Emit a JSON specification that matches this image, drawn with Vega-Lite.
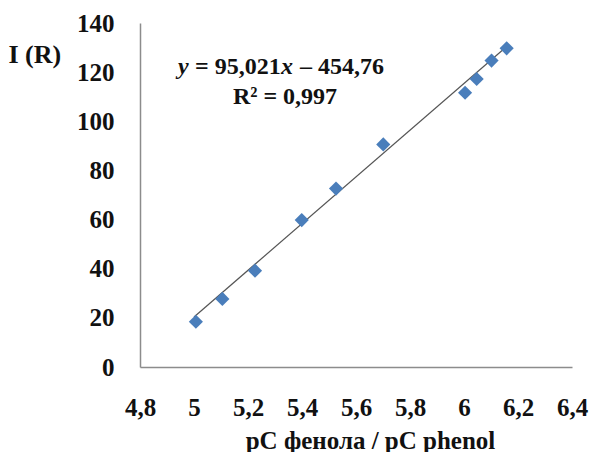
{
  "$schema": "https://vega.github.io/schema/vega-lite/v6.json",
  "width": 432,
  "height": 344,
  "autosize": {"type": "none"},
  "padding": {"left": 140, "top": 23, "right": 21, "bottom": 85},
  "background": "white",
  "config": {
    "view": {"stroke": null},
    "font": "Liberation Serif"
  },
  "datasets": {
    "pts": [
      {"pc": 5.007, "i": 18.4},
      {"pc": 5.105, "i": 27.7},
      {"pc": 5.226, "i": 39.2},
      {"pc": 5.399, "i": 59.8},
      {"pc": 5.526, "i": 72.6},
      {"pc": 5.701, "i": 90.6},
      {"pc": 6.004, "i": 111.6},
      {"pc": 6.047, "i": 117.2},
      {"pc": 6.102, "i": 124.7},
      {"pc": 6.158, "i": 129.7}
    ],
    "fit": [
      {"pc": 5.0, "i": 20.35},
      {"pc": 6.155, "i": 130.1}
    ],
    "eqi": [
      {"pc": 4.9407, "i": 121.9, "t": "y"},
      {"pc": 5.3222, "i": 121.9, "t": "x"}
    ],
    "eqb": [
      {"pc": 5.0037, "i": 121.9, "t": "= 95,021"},
      {"pc": 5.3926, "i": 121.9, "t": "– 454,76"}
    ],
    "eqc": [
      {"pc": 5.337, "i": 109.7, "t": "R² = 0,997"}
    ]
  },
  "layer": [
    {
      "data": {"name": "fit"},
      "mark": {"type": "line", "color": "#555555", "strokeWidth": 1.2},
      "encoding": {
        "x": {
          "field": "pc", "type": "quantitative",
          "scale": {"domain": [4.8, 6.4], "nice": false, "zero": false},
          "axis": {
            "values": [4.8, 5, 5.2, 5.4, 5.6, 5.8, 6, 6.2, 6.4],
            "labelExpr": "replace(format(datum.value, '~g'), '.', ',')",
            "grid": false, "ticks": false, "domainColor": "#8c8c8c", "domainWidth": 1.5,
            "labelFont": "Liberation Serif", "labelFontWeight": "bold", "labelFontSize": 25, "labelColor": "#111111",
            "labelPadding": 28, "labelFlush": false,
            "title": "pC фенола / pC phenol",
            "titleFont": "Liberation Serif", "titleFontWeight": "bold", "titleFontSize": 25, "titleColor": "#111111",
            "titleX": 230, "titleY": 81, "titleBaseline": "alphabetic"
          }
        },
        "y": {
          "field": "i", "type": "quantitative",
          "scale": {"domain": [0, 140], "nice": false},
          "axis": {
            "values": [0, 20, 40, 60, 80, 100, 120, 140],
            "grid": false, "ticks": false, "domainColor": "#8c8c8c", "domainWidth": 1.5,
            "labelFont": "Liberation Serif", "labelFontWeight": "bold", "labelFontSize": 25, "labelColor": "#111111",
            "labelPadding": 26,
            "title": "I (R)", "titleAngle": 0,
            "titleFont": "Liberation Serif", "titleFontWeight": "bold", "titleFontSize": 26, "titleColor": "#111111",
            "titleAlign": "left", "titleBaseline": "alphabetic",
            "titleX": -132, "titleY": 39
          }
        }
      }
    },
    {
      "data": {"name": "pts"},
      "mark": {"type": "point", "shape": "diamond", "filled": true, "color": "#4a7ebb", "opacity": 1, "size": 200},
      "encoding": {
        "x": {"field": "pc", "type": "quantitative"},
        "y": {"field": "i", "type": "quantitative"}
      }
    },
    {
      "data": {"name": "eqi"},
      "mark": {"type": "text", "font": "Liberation Serif", "fontWeight": "bold", "fontStyle": "italic", "fontSize": 24, "color": "#111111", "align": "left", "baseline": "middle"},
      "encoding": {
        "x": {"field": "pc", "type": "quantitative"},
        "y": {"field": "i", "type": "quantitative"},
        "text": {"field": "t"}
      }
    },
    {
      "data": {"name": "eqb"},
      "mark": {"type": "text", "font": "Liberation Serif", "fontWeight": "bold", "fontSize": 24, "color": "#111111", "align": "left", "baseline": "middle"},
      "encoding": {
        "x": {"field": "pc", "type": "quantitative"},
        "y": {"field": "i", "type": "quantitative"},
        "text": {"field": "t"}
      }
    },
    {
      "data": {"name": "eqc"},
      "mark": {"type": "text", "font": "Liberation Serif", "fontWeight": "bold", "fontSize": 24, "color": "#111111", "align": "center", "baseline": "middle"},
      "encoding": {
        "x": {"field": "pc", "type": "quantitative"},
        "y": {"field": "i", "type": "quantitative"},
        "text": {"field": "t"}
      }
    }
  ]
}
